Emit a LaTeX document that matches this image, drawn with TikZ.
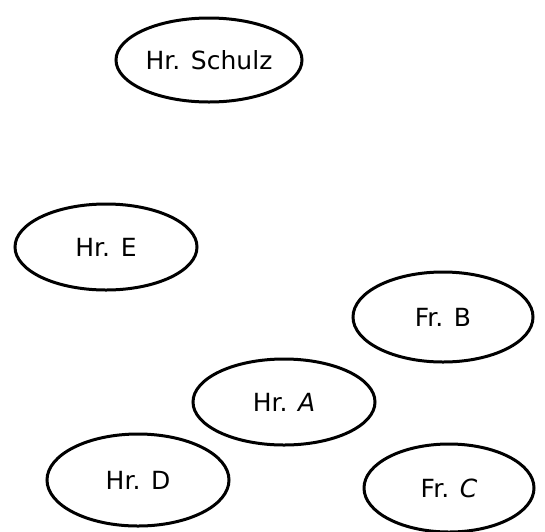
\documentclass[tikz,border=0pt]{standalone}
\usepackage{fontspec}
\setmainfont{DejaVu Sans}
\usetikzlibrary{shapes.geometric}
\tikzset{
  person/.style={ellipse, draw=black, line width=3pt, inner sep=0pt, font=\fontsize{25}{28}\selectfont}
}
\begin{document}
\begin{tikzpicture}[x=1pt,y=-1pt]
\useasboundingbox (0,0) rectangle (545,531);
\node[person, minimum width=186pt, minimum height=84pt] (schulz) at (209,60) {Hr. Schulz};
\node[person, minimum width=182pt, minimum height=86pt] (e) at (106,247) {Hr. E};
\node[person, minimum width=180pt, minimum height=90pt] (b) at (443,317) {Fr. B};
\node[person, minimum width=182pt, minimum height=86pt] (a) at (284,402) {Hr. \textit{A}};
\node[person, minimum width=182pt, minimum height=92pt] (d) at (138,480) {Hr. D};
\node[person, minimum width=170pt, minimum height=88pt] (c) at (449,488) {Fr. \textit{C}};
\end{tikzpicture}
\end{document}
